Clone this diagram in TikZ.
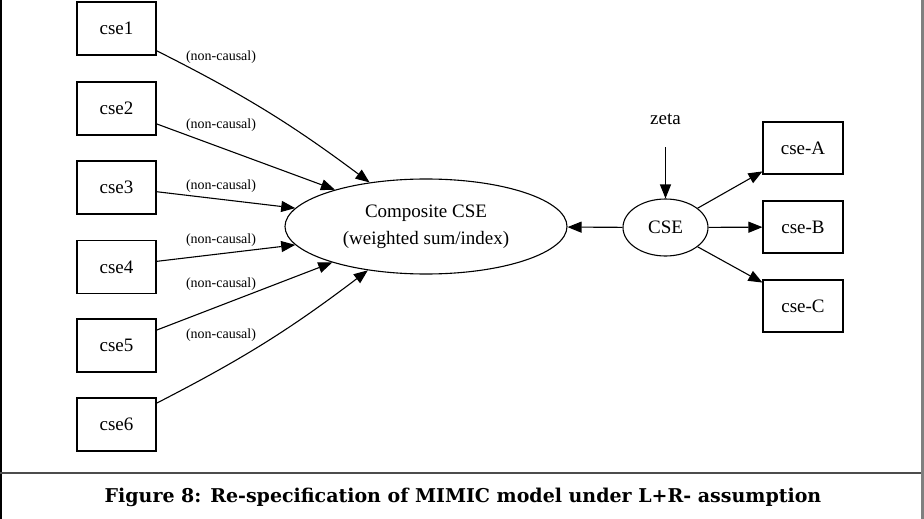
\documentclass[tikz,border=0pt]{standalone}
\usepackage{fontspec}
\setmainfont{Liberation Serif}
\newfontfamily\capfont{DejaVu Serif}
\usetikzlibrary{arrows.meta,shapes.geometric}
\tikzset{
	obs/.style={draw,line width=1.1pt,minimum width=79pt,minimum height=53pt,inner sep=0pt,
		font=\fontsize{19}{22}\selectfont},
	lat/.style={draw,ellipse,line width=1.1pt,inner sep=0pt,font=\fontsize{19}{27}\selectfont,align=center},
	lbl/.style={font=\fontsize{14}{16}\selectfont,inner sep=0pt},
	edge/.style={line width=1.1pt,-{Triangle[length=14pt,width=11pt]}}
}
\begin{document}
\begin{tikzpicture}[x=1pt,y=-1pt]
	\useasboundingbox (0,0) rectangle (924,519);
	% frame and caption
	\draw[line width=1.5pt] (0.75,0)--(0.75,519);
	\draw[line width=2.5pt,gray] (922.5,0)--(922.5,519);
	\draw[line width=2pt,black!70] (0,472.5)--(921,472.5);
	\node (caption) at (463,497) {\capfont\bfseries\fontsize{19}{22}\selectfont
		Figure 8: Re-specification of MIMIC model under L+R- assumption};
	% indicators
	\node[obs] (cse1) at (116.5,28.5) {cse1};
	\node[obs] (cse2) at (116.5,108.5) {cse2};
	\node[obs] (cse3) at (116.5,187.5) {cse3};
	\node[obs] (cse4) at (116.5,267) {cse4};
	\node[obs] (cse5) at (116.5,345.5) {cse5};
	\node[obs] (cse6) at (116.5,424.5) {cse6};
	\node[lat,minimum width=282pt,minimum height=95pt] (comp) at (426,226.5)
		{Composite CSE\\(weighted sum/index)};
	\node[lat,minimum width=85pt,minimum height=57pt] (cse) at (665.5,227.5) {CSE};
	\node[font=\fontsize{19}{22}\selectfont,minimum height=56pt,inner sep=0pt] (zeta) at (665.5,119) {zeta};
	\node[obs,minimum width=80pt,minimum height=52pt] (cseA) at (803,148) {cse-A};
	\node[obs,minimum width=80pt,minimum height=52pt] (cseB) at (803,227) {cse-B};
	\node[obs,minimum width=80pt,minimum height=52pt] (cseC) at (803,306) {cse-C};
	% causal indicators
	\draw[edge] (cse1.-29) to[bend left=5] (comp.142.8);
	\draw[edge] (cse2.-21) -- (comp.158.5);
	\draw[edge] (cse3.-6.4) -- (comp.172.8);
	\draw[edge] (cse4.8.5) -- (comp.-172.3);
	\draw[edge] (cse5.21) -- (comp.-159);
	\draw[edge] (cse6.28) to[bend right=5] (comp.-143.4);
	\node[lbl] (l1) at (221,57.5) {(non-causal)};
	\node[lbl] (l2) at (221,125.5) {(non-causal)};
	\node[lbl] (l3) at (221,186) {(non-causal)};
	\node[lbl] (l4) at (221,240) {(non-causal)};
	\node[lbl] (l5) at (221,284) {(non-causal)};
	\node[lbl] (l6) at (221,335.5) {(non-causal)};
	% reflective part
	\draw[edge] (zeta) -- (cse);
	\draw[edge] (cse) -- (comp);
	\draw[edge] (cse.31.5) -- (cseA.210);
	\draw[edge] (cse) -- (cseB);
	\draw[edge] (cse.-31.5) -- (cseC.150);
\end{tikzpicture}
\end{document}
